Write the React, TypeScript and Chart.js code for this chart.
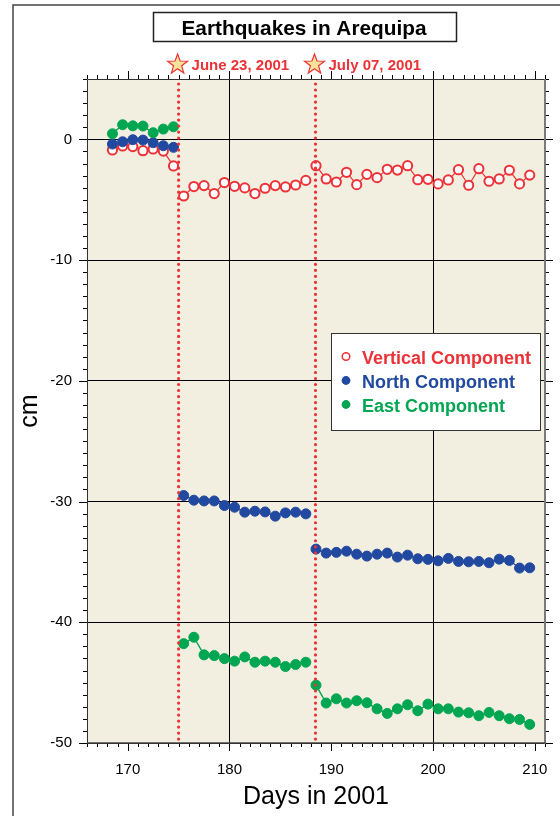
import React, { useEffect, useRef } from 'react';
import { Chart, registerables } from 'chart.js';

Chart.register(...registerables);

const FONT = '"Liberation Sans", Arial, Helvetica, sans-serif';

// Day of year for every observation
const DAYS = [
  168.5, 169.5, 170.5, 171.5, 172.5, 173.5, 174.5,
  175.5, 176.5, 177.5, 178.5, 179.5, 180.5, 181.5, 182.5, 183.5, 184.5, 185.5, 186.5, 187.5,
  188.5, 189.5, 190.5, 191.5, 192.5, 193.5, 194.5, 195.5, 196.5, 197.5, 198.5,
  199.5, 200.5, 201.5, 202.5, 203.5, 204.5, 205.5, 206.5, 207.5, 208.5, 209.5,
];

const VERTICAL = [
  -0.88, -0.55, -0.6, -0.94, -0.8, -0.97, -2.2,
  -4.69, -3.91, -3.83, -4.49, -3.58, -3.89, -4.02, -4.49, -4.05, -3.83, -3.94, -3.78, -3.4,
  -2.18, -3.28, -3.53, -2.73, -3.75, -2.9, -3.17, -2.48, -2.54, -2.18, -3.34,
  -3.31, -3.69, -3.36, -2.51, -3.8, -2.43, -3.47, -3.28, -2.56, -3.69, -2.96,
];

const NORTH = [
  -0.39, -0.2, -0.03, -0.06, -0.28, -0.53, -0.66,
  -29.5, -29.89, -29.95, -29.95, -30.33, -30.47, -30.88, -30.8, -30.86, -31.21, -30.94, -30.88, -31.02,
  -33.94, -34.27, -34.21, -34.11, -34.36, -34.52, -34.36, -34.27, -34.6, -34.44, -34.74,
  -34.79, -34.91, -34.71, -34.96, -34.99, -34.96, -35.07, -34.77, -34.88, -35.51, -35.49,
];

const EAST = [
  0.46, 1.21, 1.12, 1.1, 0.55, 0.85, 1.04,
  -41.77, -41.24, -42.7, -42.76, -43.01, -43.22, -42.87, -43.31, -43.22, -43.31, -43.67, -43.5, -43.31,
  -45.21, -46.69, -46.34, -46.69, -46.5, -46.67, -47.17, -47.55, -47.17, -46.83, -47.33,
  -46.78, -47.17, -47.17, -47.44, -47.5, -47.74, -47.47, -47.74, -47.99, -48.05, -48.46,
];

const QUAKE_DAYS = [175.0, 188.45];
const QUAKE_LABELS = ['June 23, 2001', 'July 07, 2001'];
const SERIES_NAMES = ['Vertical Component', 'North Component', 'East Component'];
const TITLE = 'Earthquakes in Arequipa';
const X_TITLE = 'Days in 2001';
const Y_TITLE = 'cm';
const X_RANGE = [166, 211];
const Y_RANGE = [-50, 5];
const X_GRID_DAYS = [180, 200];

const RED = '#EC3237';
const BLUE = '#2249A0';
const GREEN = '#00A651';
const BG = '#F3EFE0';

function toPoints(vals: number[]) {
  const pts: { x: number; y: number | null }[] = [];
  for (let i = 0; i < DAYS.length; i++) {
    if (i > 0) {
      const prev = DAYS[i - 1];
      const cur = DAYS[i];
      if (QUAKE_DAYS.some((q) => q > prev && q < cur)) {
        pts.push({ x: (prev + cur) / 2, y: null });
      }
    }
    pts.push({ x: DAYS[i], y: vals[i] });
  }
  return pts;
}

function drawStar(ctx: CanvasRenderingContext2D, cx: number, cy: number, R: number, r: number) {
  ctx.beginPath();
  for (let i = 0; i < 10; i++) {
    const rad = i % 2 === 0 ? R : r;
    const a = -Math.PI / 2 + (i * Math.PI) / 5;
    const x = cx + rad * Math.cos(a);
    const y = cy + rad * Math.sin(a);
    if (i === 0) ctx.moveTo(x, y);
    else ctx.lineTo(x, y);
  }
  ctx.closePath();
}

const decor = {
  id: 'decor',
  beforeDraw(chart: any) {
    const { ctx, chartArea: a } = chart;
    ctx.save();
    ctx.fillStyle = '#fff';
    ctx.fillRect(0, 0, chart.width, chart.height);
    ctx.fillStyle = BG;
    ctx.fillRect(a.left, a.top, a.right - a.left, a.bottom - a.top);
    // page frame
    ctx.strokeStyle = '#444';
    ctx.lineWidth = 1.5;
    ctx.beginPath();
    ctx.moveTo(13, chart.height);
    ctx.lineTo(13, 5);
    ctx.lineTo(chart.width, 5);
    ctx.stroke();
    // title box
    ctx.fillStyle = '#fff';
    ctx.fillRect(153, 12, 304, 30);
    ctx.strokeStyle = '#222';
    ctx.lineWidth = 1.5;
    ctx.strokeRect(153.5, 12.5, 303, 29);
    ctx.fillStyle = '#000';
    ctx.font = `bold 20.8px ${FONT}`;
    ctx.textAlign = 'center';
    ctx.textBaseline = 'alphabetic';
    ctx.fillText(TITLE, 304, 34.5);
    ctx.restore();
  },
  afterDatasetsDraw(chart: any) {
    const { ctx, chartArea: a, scales } = chart;
    const xs = scales.x;
    const ys = scales.y;
    ctx.save();
    // dotted quake lines
    ctx.strokeStyle = RED;
    ctx.lineWidth = 3.2;
    ctx.lineCap = 'round';
    ctx.setLineDash([0.01, 6]);
    QUAKE_DAYS.forEach((d) => {
      const px = xs.getPixelForValue(d);
      ctx.beginPath();
      ctx.moveTo(px, a.top + 5);
      ctx.lineTo(px, a.bottom);
      ctx.stroke();
    });
    ctx.setLineDash([]);
    ctx.lineCap = 'butt';
    // ticks
    ctx.strokeStyle = '#000';
    ctx.lineWidth = 1;
    ctx.beginPath();
    for (let d = X_RANGE[0]; d <= X_RANGE[1]; d++) {
      const px = Math.round(xs.getPixelForValue(d)) + 0.5;
      const len = d % 10 === 0 ? 8 : 4;
      ctx.moveTo(px, a.bottom);
      ctx.lineTo(px, a.bottom + len);
      ctx.moveTo(px, a.top);
      ctx.lineTo(px, a.top - len);
    }
    for (let v = Y_RANGE[0]; v <= Y_RANGE[1]; v++) {
      const py = Math.round(ys.getPixelForValue(v)) + 0.5;
      const len = v % 10 === 0 ? 8 : 4;
      ctx.moveTo(a.left, py);
      ctx.lineTo(a.left - len, py);
      ctx.moveTo(a.right, py);
      ctx.lineTo(a.right + len, py);
    }
    ctx.stroke();
    // frame
    ctx.strokeStyle = '#333';
    ctx.lineWidth = 1;
    ctx.beginPath();
    ctx.moveTo(a.left + 0.5, a.bottom);
    ctx.lineTo(a.left + 0.5, a.top + 0.5);
    ctx.lineTo(a.right, a.top + 0.5);
    ctx.stroke();
    ctx.strokeStyle = '#7a7a7a';
    ctx.lineWidth = 2;
    ctx.beginPath();
    ctx.moveTo(a.right, a.top);
    ctx.lineTo(a.right, a.bottom + 1);
    ctx.stroke();
    ctx.strokeStyle = '#444';
    ctx.lineWidth = 1.5;
    ctx.beginPath();
    ctx.moveTo(a.left, a.bottom);
    ctx.lineTo(a.right + 1, a.bottom);
    ctx.stroke();
    ctx.restore();
  },
  afterDraw(chart: any) {
    const { ctx, scales } = chart;
    const xs = scales.x;
    ctx.save();
    // quake stars and labels
    QUAKE_DAYS.forEach((d, i) => {
      const px = xs.getPixelForValue(d) - 1;
      drawStar(ctx, px, 64.5, 10.5, 4.3);
      ctx.fillStyle = '#F9E29A';
      ctx.fill();
      ctx.strokeStyle = RED;
      ctx.lineWidth = 1.2;
      ctx.stroke();
      ctx.fillStyle = RED;
      ctx.font = `bold 15px ${FONT}`;
      ctx.textAlign = 'left';
      ctx.textBaseline = 'alphabetic';
      ctx.fillText(QUAKE_LABELS[i], px + 14, 70);
    });
    // legend
    ctx.fillStyle = '#fff';
    ctx.fillRect(331, 333, 209, 97);
    ctx.strokeStyle = '#333';
    ctx.lineWidth = 1;
    ctx.strokeRect(331.5, 333.5, 209, 97);
    const colors = [RED, BLUE, GREEN];
    const baselines = [364, 388, 412];
    SERIES_NAMES.forEach((name, i) => {
      const cy = baselines[i] - 7.5;
      ctx.beginPath();
      ctx.arc(346, cy, i === 0 ? 3.8 : 4.4, 0, Math.PI * 2);
      if (i === 0) {
        ctx.fillStyle = '#fff';
        ctx.fill();
        ctx.strokeStyle = RED;
        ctx.lineWidth = 1.5;
        ctx.stroke();
      } else {
        ctx.fillStyle = colors[i];
        ctx.fill();
      }
      ctx.fillStyle = colors[i];
      ctx.font = `bold 18px ${FONT}`;
      ctx.textAlign = 'left';
      ctx.textBaseline = 'alphabetic';
      ctx.fillText(name, 362, baselines[i]);
    });
    ctx.restore();
  },
};

export default function App() {
  const ref = useRef<HTMLCanvasElement | null>(null);
  useEffect(() => {
    if (!ref.current) return;
    const chart = new Chart(ref.current, {
      type: 'line',
      data: {
        datasets: [
          {
            label: SERIES_NAMES[0],
            data: toPoints(VERTICAL),
            borderColor: RED,
            borderWidth: 1.2,
            pointRadius: 4.6,
            pointBorderWidth: 2,
            pointBackgroundColor: '#fff',
            pointBorderColor: RED,
            order: 3,
            spanGaps: false,
          },
          {
            label: SERIES_NAMES[1],
            data: toPoints(NORTH),
            borderColor: BLUE,
            borderWidth: 1.2,
            pointRadius: 5,
            pointBorderWidth: 1,
            pointBackgroundColor: BLUE,
            pointBorderColor: BLUE,
            order: 2,
            spanGaps: false,
          },
          {
            label: SERIES_NAMES[2],
            data: toPoints(EAST),
            borderColor: GREEN,
            borderWidth: 1.4,
            pointRadius: 5,
            pointBorderWidth: 1,
            pointBackgroundColor: GREEN,
            pointBorderColor: GREEN,
            order: 1,
            spanGaps: false,
          },
        ],
      },
      options: {
        animation: false,
        responsive: false,
        devicePixelRatio: 1,
        layout: { padding: { top: 79, right: 15, left: 0, bottom: 0 } },
        plugins: { legend: { display: false }, tooltip: { enabled: false }, title: { display: false } },
        scales: {
          x: {
            type: 'linear',
            min: X_RANGE[0],
            max: X_RANGE[1],
            ticks: {
              stepSize: 10,
              includeBounds: false,
              autoSkip: false,
              padding: 18,
              color: '#000',
              font: { size: 15, family: FONT },
              maxRotation: 0,
            },
            grid: {
              drawTicks: false,
              lineWidth: 1,
              color: (c: any) => (c.tick && X_GRID_DAYS.includes(c.tick.value) ? '#000' : 'rgba(0,0,0,0)'),
            },
            border: { display: false },
            title: {
              display: true,
              text: X_TITLE,
              color: '#000',
              font: { size: 25, family: FONT },
              padding: { top: 0, bottom: 4 },
            },
            afterFit: (s: any) => {
              s.height = 73;
              s.paddingLeft = 0;
              s.paddingRight = 0;
            },
          },
          y: {
            type: 'linear',
            min: Y_RANGE[0],
            max: Y_RANGE[1],
            ticks: {
              stepSize: 10,
              includeBounds: false,
              autoSkip: false,
              padding: 15,
              color: '#000',
              font: { size: 15, family: FONT },
            },
            grid: { drawTicks: false, color: '#000', lineWidth: 1 },
            border: { display: false },
            title: {
              display: true,
              text: Y_TITLE,
              color: '#000',
              font: { size: 25, family: FONT },
              padding: { top: 15, bottom: 0 },
            },
            afterFit: (s: any) => {
              s.width = 87;
              s.paddingTop = 0;
              s.paddingBottom = 0;
            },
          },
        },
      },
      plugins: [decor],
    });
    return () => chart.destroy();
  }, []);
  return (
    <div style={{ position: 'fixed', left: 0, top: 0, width: 560, height: 816, background: '#fff' }}>
      <canvas ref={ref} width={560} height={816} style={{ display: 'block', width: 560, height: 816 }} />
    </div>
  );
}
